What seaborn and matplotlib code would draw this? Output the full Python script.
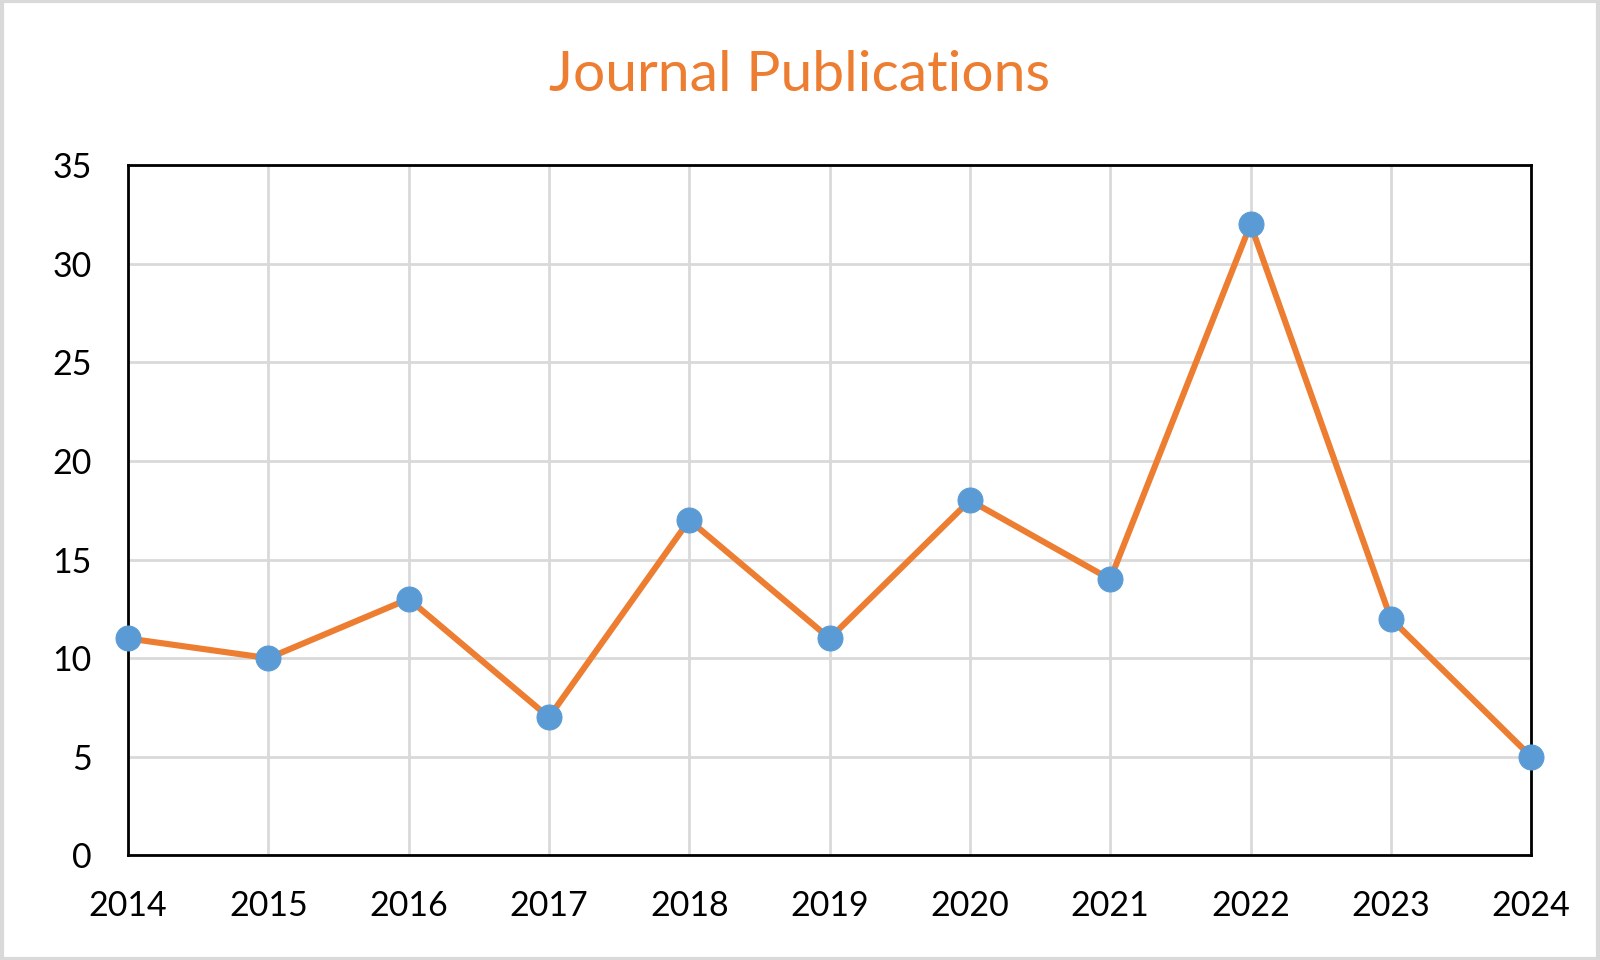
import matplotlib
matplotlib.use("Agg")
import matplotlib.pyplot as plt
import seaborn as sns
import pandas as pd
from matplotlib.patches import Rectangle

years = [2014, 2015, 2016, 2017, 2018, 2019, 2020, 2021, 2022, 2023, 2024]
publications = [11, 10, 13, 7, 17, 11, 18, 14, 32, 12, 5]
yticks = [0, 5, 10, 15, 20, 25, 30, 35]

sns.set_theme(style="white")
plt.rcParams['font.family'] = ['Lato', 'DejaVu Sans']

df = pd.DataFrame({"Year": years, "Publications": publications})

fig = plt.figure(figsize=(16, 9.6), dpi=100)
ax = fig.add_axes([0.08, 0.109, 0.877, 0.719])

sns.lineplot(data=df, x="Year", y="Publications", ax=ax, color="#ED7D31",
             linewidth=4.4, marker="o", markersize=18,
             markerfacecolor="#5B9BD5", markeredgecolor="#5B9BD5", zorder=3,
             clip_on=False)

ax.set_xlim(years[0], years[-1])
ax.set_ylim(0, 35)
ax.set_xticks(years)
ax.set_xticklabels([str(y) for y in years])
ax.set_yticks(yticks)
ax.grid(True, color="#D9D9D9", linewidth=2)
ax.set_axisbelow(True)
for s in ax.spines.values():
    s.set_color("black")
    s.set_linewidth(2)
ax.tick_params(axis="both", length=0, labelsize=24.5, colors="black")
ax.tick_params(axis="x", pad=25)
ax.tick_params(axis="y", pad=26)
ax.set_xlabel("")
ax.set_ylabel("")

fig.text(0.5, 0.921, "Journal Publications", ha="center", va="center",
         fontsize=41, color="#ED7D31")

fig.patches.append(Rectangle((0.001, 0.0015), 0.998, 0.997, transform=fig.transFigure,
                             fill=False, edgecolor="#D9D9D9", linewidth=3))

fig.savefig("out.png", dpi=100, facecolor="white")
